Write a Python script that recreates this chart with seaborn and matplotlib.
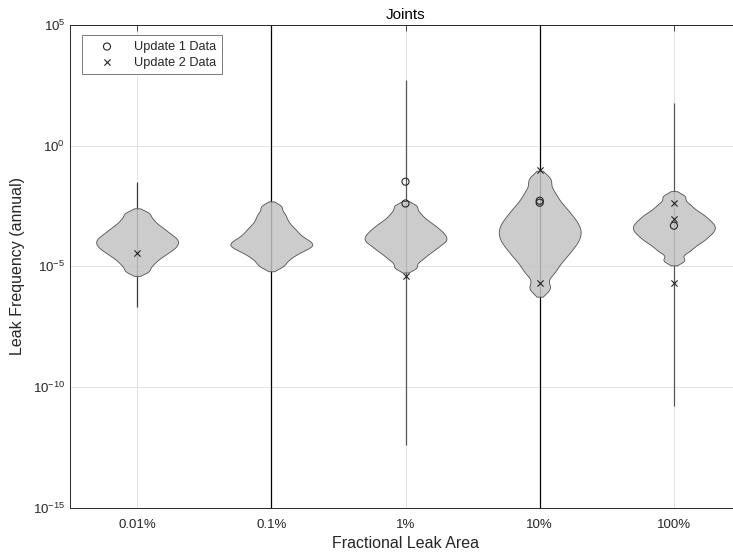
import numpy as np
import pandas as pd
import matplotlib
matplotlib.use("Agg")
import matplotlib.pyplot as plt
import seaborn as sns
from matplotlib.ticker import FixedLocator, FuncFormatter, NullFormatter

sns.set_style("white")
plt.rcParams["font.family"] = ["Liberation Sans", "DejaVu Sans"]
plt.rcParams["mathtext.fontset"] = "custom"
plt.rcParams["mathtext.rm"] = "Liberation Sans"
plt.rcParams["mathtext.default"] = "regular"

areas = ["0.01%", "0.1%", "1%", "10%", "100%"]

# log10 leak frequency samples behind each violin
log_freq_0_01 = [-5.20, -4.95, -4.76, -4.61, -4.49, -4.38, -4.29, -4.20, -4.12, -4.04,
                 -3.96, -3.88, -3.80, -3.71, -3.61, -3.50, -3.38, -3.23, -3.04, -2.80]
log_freq_0_1 = [-5.00, -4.78, -4.61, -4.48, -4.37, -4.28, -4.20, -4.13, -4.06, -3.99,
                -3.91, -3.82, -3.72, -3.61, -3.49, -3.36, -3.20, -3.01, -2.80, -2.52]
log_freq_1 = [-5.05, -4.76, -4.57, -4.42, -4.30, -4.19, -4.09, -4.00, -3.92, -3.84,
              -3.76, -3.67, -3.59, -3.49, -3.39, -3.28, -3.15, -2.99, -2.78, -2.50]
log_freq_10 = [-5.90, -5.30, -4.95, -4.68, -4.47, -4.28, -4.11, -3.96, -3.81, -3.67,
               -3.53, -3.39, -3.24, -3.09, -2.92, -2.73, -2.52, -2.25, -1.90, -1.40]
log_freq_100 = [-4.75, -4.40, -4.20, -4.04, -3.92, -3.81, -3.71, -3.61, -3.53, -3.44,
                -3.36, -3.27, -3.19, -3.09, -2.99, -2.88, -2.76, -2.60, -2.40, -2.10]

# full range of each distribution (log10), drawn as thin vertical lines
range_lo = [-6.7, -16.0, -12.4, -16.0, -10.8]
range_hi = [-1.5, 6.0, 2.7, 6.0, 1.75]

# data points overlaid on the violins
upd1_area = ["1%", "1%", "10%", "10%", "100%"]
upd1_freq = [3.2e-2, 4.0e-3, 5.2e-3, 4.3e-3, 4.8e-4]
upd2_area = ["0.01%", "1%", "10%", "10%", "100%", "100%", "100%"]
upd2_freq = [3.6e-5, 4.0e-6, 1.0e-1, 2.0e-6, 4.0e-3, 9.3e-4, 2.0e-6]

samples = [log_freq_0_01, log_freq_0_1, log_freq_1, log_freq_10, log_freq_100]
df = pd.DataFrame({
    "area": np.repeat(areas, [len(s) for s in samples]),
    "freq": 10.0 ** np.concatenate(samples),
})

ink = "#262626"
fig = plt.figure(figsize=(7.33, 5.54), dpi=100)
# right edge of the axes falls just outside the picture, as in the original
ax = fig.add_axes([70 / 733, 46.5 / 554, 671 / 733, 482.5 / 554])

# range lines sit under the (slightly see-through) violins
line_colors = ["#3a3a3a", "black", "#555555", "black", "#555555"]
xpos = [areas.index(a) for a in areas]
ax.vlines(xpos, 10.0 ** np.array(range_lo), 10.0 ** np.array(range_hi),
          colors=line_colors, lw=0.9, zorder=1)

sns.violinplot(data=df, x="area", y="freq", order=areas, log_scale=True,
               color="#c4c4c4", saturation=1, inner=None, cut=1.5, bw_adjust=0.38,
               density_norm="width", width=0.61, linewidth=0.6,
               linecolor="#505050", ax=ax)
for coll in ax.collections:
    coll.set_facecolor((0.77, 0.77, 0.77, 0.85))
    coll.set_zorder(2)

ax.scatter([areas.index(a) for a in upd1_area], upd1_freq, marker="o",
           facecolors="none", edgecolors=ink, s=26, linewidths=0.8,
           label="Update 1 Data", zorder=3)
ax.scatter([areas.index(a) for a in upd2_area], upd2_freq, marker="x",
           color=ink, s=20, linewidths=0.8, label="Update 2 Data", zorder=3)

ax.set_ylim(1e-15, 1e5)
ax.set_xlim(-0.5, 4.5)
ax.yaxis.set_major_locator(FixedLocator([10.0 ** e for e in range(-15, 6, 5)]))
ax.yaxis.set_minor_locator(FixedLocator([10.0 ** e for e in range(-15, 6)]))
ax.yaxis.set_major_formatter(FuncFormatter(lambda v, p: r"$10^{%d}$" % round(np.log10(v))))
ax.yaxis.set_minor_formatter(NullFormatter())

ax.grid(True, which="major", color="#dedede", lw=0.6)
ax.set_axisbelow(True)
for sp in ax.spines.values():
    sp.set_color(ink)
    sp.set_linewidth(0.7)
ax.tick_params(which="both", direction="in", top=True, right=True, color=ink,
               labelcolor=ink, labelsize=9.5, width=0.6)
ax.tick_params(which="major", length=4)
ax.tick_params(which="minor", length=2.5)
ax.tick_params(axis="x", pad=8)

ax.set_title("Joints", fontsize=11, color="black", pad=4)
ax.set_xlabel("Fractional Leak Area", fontsize=11.5, color=ink, labelpad=4)
ax.set_ylabel("Leak Frequency (annual)", fontsize=11.5, color=ink, labelpad=6)

leg = ax.legend(loc="upper left", bbox_to_anchor=(0.018, 0.979), borderaxespad=0,
                fontsize=9.2, frameon=True, fancybox=False, handlelength=3,
                handletextpad=0.6, borderpad=0.45, labelspacing=0.3)
leg.get_frame().set_edgecolor("#7a7a7a")
leg.get_frame().set_linewidth(0.7)
leg.get_frame().set_alpha(1)

fig.savefig("out.png", dpi=100)
